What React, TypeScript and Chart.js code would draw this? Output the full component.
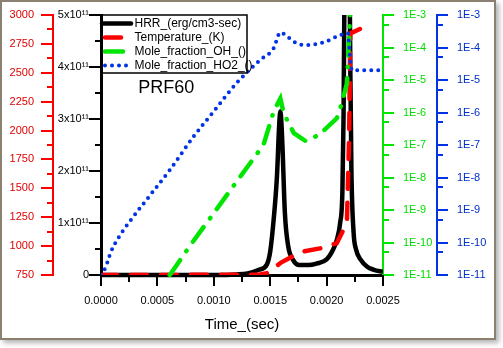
import React, { useEffect, useRef } from 'react';
import { Chart, registerables } from 'chart.js';

Chart.register(...registerables);

const FONT = '"Liberation Sans", Arial, Helvetica, sans-serif';
const RED = '#ff0000';
const RED_TEXT = '#e00000';
const GREEN = '#00e600';
const GREEN_TEXT = '#00dd00';
const BLUE = '#0033e6';
const BLUE_TEXT = '#0030c8';

// ---- tick values / labels ----
const timeTicks = [0, 0.0005, 0.001, 0.0015, 0.002, 0.0025];
const timeMinorTicks = [0.00025, 0.00075, 0.00125, 0.00175, 0.00225];
const tempTicks = [750, 1000, 1250, 1500, 1750, 2000, 2250, 2500, 2750, 3000];
const tempMinorTicks = [875, 1125, 1375, 1625, 1875, 2125, 2375, 2625, 2875];
const hrrTicks = [0, 1e11, 2e11, 3e11, 4e11, 5e11];
const hrrTickLabels = ['0', '1x10¹¹', '2x10¹¹', '3x10¹¹', '4x10¹¹', '5x10¹¹'];
const hrrMinorTicks = [0.5e11, 1.5e11, 2.5e11, 3.5e11, 4.5e11];
const fracTicks = [1e-11, 1e-10, 1e-9, 1e-8, 1e-7, 1e-6, 1e-5, 1e-4, 1e-3];
const fracTickLabels = ['1E-11', '1E-10', '1E-9', '1E-8', '1E-7', '1E-6', '1E-5', '1E-4', '1E-3'];
const fracMinorTicks = [5e-11, 5e-10, 5e-9, 5e-8, 5e-7, 5e-6, 5e-5, 5e-4];

// ---- series ----
const hrrTime = [0, 0.001, 0.0012, 0.0013, 0.0014, 0.00147, 0.0015, 0.00153, 0.00156, 0.00158, 0.00159, 0.0016, 0.00161, 0.00163, 0.00166, 0.0017, 0.00176, 0.00184, 0.00191, 0.002, 0.00206, 0.00209, 0.00212, 0.00214, 0.00215, 0.00216, 0.00218, 0.0022, 0.00221, 0.00222, 0.00224, 0.00226, 0.0023, 0.00236, 0.00242, 0.0025];
const hrrValue = [0, 0, 0.01e11, 0.03e11, 0.1e11, 0.2e11, 0.45e11, 1.05e11, 1.9e11, 2.9e11, 3.15e11, 2.9e11, 2.4e11, 1.2e11, 0.55e11, 0.3e11, 0.19e11, 0.19e11, 0.22e11, 0.3e11, 0.5e11, 0.67e11, 1.0e11, 1.6e11, 3.0e11, 6e11, 12e11, 7e11, 4e11, 2.0e11, 0.8e11, 0.5e11, 0.3e11, 0.16e11, 0.1e11, 0.06e11];

const tempTime = [0, 0.0014, 0.00147, 0.0016, 0.00178, 0.00194, 0.00209, 0.00218, 0.0022, 0.00221, 0.00237];
const tempValue = [750, 752, 765, 860, 952, 980, 1025, 1200, 1950, 2840, 2913];

const ohTime = [0.00061, 0.0008, 0.001, 0.0012, 0.00144, 0.00153, 0.00159, 0.00162, 0.00171, 0.00181, 0.00193, 0.00209, 0.00213, 0.00218, 0.00219, 0.00221, 0.00223, 0.0025];
const ohValue = [1e-11, 9e-11, 8e-10, 7.3e-9, 1e-7, 1.06e-6, 2.7e-6, 9.4e-7, 2.3e-7, 1.35e-7, 2.0e-7, 6.6e-7, 1.7e-6, 7.9e-6, 4e-5, 1.2e-3, 3e-3, 4e-3];

const ho2Time = [0, 0.00004, 0.00009, 0.00016, 0.00024, 0.00043, 0.00061, 0.00082, 0.00101, 0.0012, 0.00141, 0.00153, 0.00159, 0.00163, 0.00169, 0.00176, 0.00184, 0.00199, 0.00212, 0.00219, 0.002205, 0.002225, 0.0025];
const ho2Value = [1.0e-11, 1.7e-11, 5.4e-11, 1.5e-10, 3.8e-10, 2.7e-9, 1.7e-8, 1.8e-7, 1.2e-6, 7.9e-6, 4.1e-5, 9.4e-5, 2.9e-4, 2.5e-4, 1.7e-4, 1.25e-4, 1.2e-4, 1.5e-4, 2.4e-4, 2.7e-4, 6e-5, 2.0e-5, 2.0e-5];

const seriesLabels = ['HRR_(erg/cm3-sec)', 'Temperature_(K)', 'Mole_fraction_OH_()', 'Mole_fraction_HO2_()'];
const annotationText = 'PRF60';

const toPoints = (xs: number[], ys: number[]) => xs.map((x, i) => ({ x, y: ys[i] }));

const fitV = (w: number) => (s: any) => {
  s.width = w;
  s.paddingTop = 7;
  s.paddingBottom = 7;
};

const axisMarks = {
  id: 'axisMarks',
  afterDraw(chart: any) {
    const { ctx, scales } = chart;
    const vert = (scale: any, x0: number, dir: number, color: string, majors: number[], minors: number[], majLen: number, minLen: number) => {
      ctx.save();
      ctx.strokeStyle = color;
      ctx.lineWidth = 2;
      ctx.beginPath();
      majors.forEach((v) => {
        const y = Math.round(scale.getPixelForValue(v));
        ctx.moveTo(x0, y);
        ctx.lineTo(x0 + dir * majLen, y);
      });
      minors.forEach((v) => {
        const y = Math.round(scale.getPixelForValue(v));
        ctx.moveTo(x0, y);
        ctx.lineTo(x0 + dir * minLen, y);
      });
      ctx.stroke();
      ctx.restore();
    };
    vert(scales.yT, scales.yT.right, -1, RED, tempTicks, tempMinorTicks, 12, 6);
    vert(scales.yH, scales.yH.right, -1, '#000', hrrTicks, hrrMinorTicks, 12, 6);
    vert(scales.yOH, scales.yOH.left, 1, GREEN, fracTicks, fracMinorTicks, 11, 6);
    vert(scales.yHO2, scales.yHO2.left, 1, BLUE, fracTicks, fracMinorTicks, 11, 6);
    const xs = scales.x;
    ctx.save();
    ctx.strokeStyle = '#000';
    ctx.lineWidth = 2;
    ctx.beginPath();
    timeTicks.forEach((v) => {
      const x = Math.round(xs.getPixelForValue(v));
      ctx.moveTo(x, xs.top);
      ctx.lineTo(x, xs.top + 11);
    });
    timeMinorTicks.forEach((v) => {
      const x = Math.round(xs.getPixelForValue(v));
      ctx.moveTo(x, xs.top);
      ctx.lineTo(x, xs.top + 7);
    });
    ctx.stroke();
    ctx.restore();
  },
};

const legendBox = {
  id: 'legendBox',
  afterDatasetsDraw(chart: any) {
    const { ctx, chartArea } = chart;
    const left = chartArea.left;
    const top = chartArea.top;
    const right = left + 146;
    const bottom = top + 58;
    ctx.save();
    ctx.fillStyle = '#fff';
    ctx.fillRect(left + 2, top, right - left - 2, bottom - top);
    ctx.strokeStyle = '#000';
    ctx.lineWidth = 1.5;
    ctx.beginPath();
    ctx.moveTo(left, top);
    ctx.lineTo(right, top);
    ctx.lineTo(right, bottom);
    ctx.lineTo(left, bottom);
    ctx.stroke();
    chart.data.datasets.forEach((ds: any, i: number) => {
      const y = top + 8.5 + i * 14;
      ctx.save();
      ctx.strokeStyle = ds.borderColor;
      ctx.lineWidth = ds.borderWidth;
      ctx.lineCap = 'round';
      const dash = ds.borderDash || [];
      ctx.setLineDash(dash);
      ctx.beginPath();
      if (dash.length) {
        ctx.moveTo(left + 4, y);
        ctx.lineTo(left + 27, y);
      } else {
        ctx.moveTo(left + 1, y);
        ctx.lineTo(left + 30, y);
      }
      ctx.stroke();
      ctx.restore();
      ctx.fillStyle = '#000';
      ctx.font = `12px ${FONT}`;
      ctx.textBaseline = 'middle';
      ctx.textAlign = 'left';
      ctx.fillText(seriesLabels[i], left + 33.5, y + 0.5);
    });
    const xs = chart.scales.x;
    const yh = chart.scales.yH;
    ctx.fillStyle = '#000';
    ctx.font = `18px ${FONT}`;
    ctx.textBaseline = 'alphabetic';
    ctx.fillText(annotationText, xs.getPixelForValue(0.00033), yh.getPixelForValue(3.5e11));
    ctx.restore();
  },
};

export default function App() {
  const ref = useRef<HTMLCanvasElement>(null);
  useEffect(() => {
    const tickFont = { family: FONT, size: 11 };
    const chart = new Chart(ref.current as HTMLCanvasElement, {
      type: 'line',
      data: {
        datasets: [
          {
            label: seriesLabels[0],
            data: toPoints(hrrTime, hrrValue),
            yAxisID: 'yH',
            borderColor: '#000',
            borderWidth: 4.5,
            cubicInterpolationMode: 'monotone',
            pointRadius: 0,
            order: 4,
            clip: { left: 0, top: 0, right: 0, bottom: 4 },
          },
          {
            label: seriesLabels[1],
            data: toPoints(tempTime, tempValue),
            yAxisID: 'yT',
            borderColor: RED,
            borderWidth: 4.5,
            borderDash: [16, 14],
            borderCapStyle: 'round',
            tension: 0,
            pointRadius: 0,
            order: 3,
          },
          {
            label: seriesLabels[2],
            data: toPoints(ohTime, ohValue),
            yAxisID: 'yOH',
            borderColor: GREEN,
            borderWidth: 4.5,
            borderDash: [18, 11, 0.5, 11],
            borderCapStyle: 'round',
            tension: 0,
            pointRadius: 0,
            order: 2,
            clip: { left: 0, top: 0, right: 0, bottom: 4 },
          },
          {
            label: seriesLabels[3],
            data: toPoints(ho2Time, ho2Value),
            yAxisID: 'yHO2',
            borderColor: BLUE,
            borderWidth: 4,
            borderDash: [0, 7],
            borderCapStyle: 'round',
            cubicInterpolationMode: 'monotone',
            pointRadius: 0,
            order: 1,
          },
        ],
      } as any,
      options: {
        responsive: false,
        animation: false,
        devicePixelRatio: 1,
        layout: { padding: { top: 15, left: 0, right: 0, bottom: 0 } },
        plugins: { legend: { display: false }, tooltip: { enabled: false } },
        scales: {
          x: {
            type: 'linear',
            position: 'bottom',
            min: 0,
            max: 0.0025,
            afterFit: (s: any) => { s.height = 73; s.paddingLeft = 0; s.paddingRight = 0; },
            afterBuildTicks: (s: any) => { s.ticks = timeTicks.map((v) => ({ value: v })); },
            ticks: { callback: (v: any) => Number(v).toFixed(4), font: tickFont, color: '#000', padding: 19, maxRotation: 0, autoSkip: false },
            grid: { display: false, drawTicks: false },
            border: { display: true, color: '#000', width: 3 },
            title: { display: true, text: 'Time_(sec)', font: { family: FONT, size: 15 }, color: '#000', padding: { top: 0, bottom: 14 } },
          },
          yT: {
            type: 'linear',
            position: 'left',
            weight: 10,
            min: 750,
            max: 3000,
            afterFit: fitV(53),
            afterBuildTicks: (s: any) => { s.ticks = tempTicks.map((v) => ({ value: v })); },
            ticks: { font: tickFont, color: RED_TEXT, padding: 19, autoSkip: false, callback: (v: any) => String(v) },
            grid: { display: false, drawTicks: false },
            border: { display: true, color: RED, width: 2 },
          },
          yH: {
            type: 'linear',
            position: 'left',
            weight: 0,
            min: 0,
            max: 5e11,
            afterFit: fitV(48),
            afterBuildTicks: (s: any) => { s.ticks = hrrTicks.map((v) => ({ value: v })); },
            ticks: { font: tickFont, color: '#000', padding: 12, autoSkip: false, callback: (_v: any, i: number) => hrrTickLabels[i] },
            grid: { display: false, drawTicks: false },
            border: { display: true, color: '#000', width: 3 },
          },
          yOH: {
            type: 'logarithmic',
            position: 'right',
            weight: 0,
            min: 1e-11,
            max: 1e-3,
            afterFit: fitV(54),
            afterBuildTicks: (s: any) => { s.ticks = fracTicks.map((v) => ({ value: v })); },
            ticks: { font: tickFont, color: GREEN_TEXT, padding: 20, autoSkip: false, callback: (_v: any, i: number) => fracTickLabels[i] },
            grid: { display: false, drawTicks: false },
            border: { display: true, color: GREEN, width: 2 },
          },
          yHO2: {
            type: 'logarithmic',
            position: 'right',
            weight: 10,
            min: 1e-11,
            max: 1e-3,
            afterFit: fitV(66),
            afterBuildTicks: (s: any) => { s.ticks = fracTicks.map((v) => ({ value: v })); },
            ticks: { font: tickFont, color: BLUE_TEXT, padding: 20, autoSkip: false, callback: (_v: any, i: number) => fracTickLabels[i] },
            grid: { display: false, drawTicks: false },
            border: { display: true, color: BLUE, width: 2 },
          },
        },
      } as any,
      plugins: [axisMarks, legendBox],
    });
    return () => chart.destroy();
  }, []);

  return (
    <div style={{ position: 'fixed', left: 0, top: 0, width: 503, height: 348, background: '#fff' }}>
      <div
        style={{
          position: 'absolute',
          left: 0,
          top: 0,
          width: 496,
          height: 340,
          boxSizing: 'border-box',
          border: '2px solid #8b8171',
          boxShadow: '3px 3px 5px rgba(0,0,0,0.3)',
          background: '#fff',
        }}
      />
      <canvas ref={ref} width={503} height={348} style={{ position: 'absolute', left: 0, top: 0, width: 503, height: 348, display: 'block' }} />
    </div>
  );
}
